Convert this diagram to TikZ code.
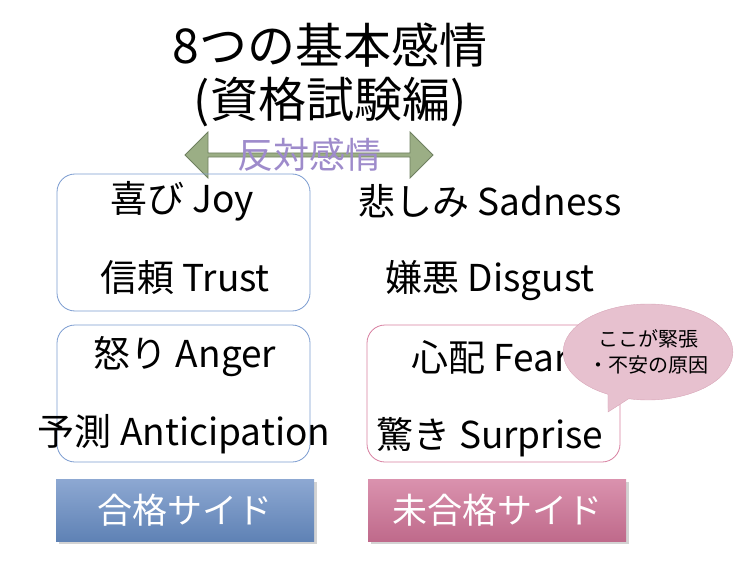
\documentclass[tikz,border=0pt]{standalone}
\usepackage{fontspec}
\setmainfont{Noto Sans CJK JP}
\usetikzlibrary{shapes.geometric,shapes.arrows,shapes.callouts,shadows}
\definecolor{bluebd}{HTML}{7A9BD0}
\definecolor{pinkbd}{HTML}{D77FA0}
\definecolor{arrowf}{HTML}{9BAE85}
\definecolor{arrowd}{HTML}{6F8060}
\definecolor{purp}{HTML}{9E8BCB}
\definecolor{bluetop}{HTML}{8DA8D2}
\definecolor{bluebot}{HTML}{5F82B5}
\definecolor{pinktop}{HTML}{DA92AE}
\definecolor{pinkbot}{HTML}{BF6A8B}
\definecolor{bubble}{HTML}{E7C1CF}
\definecolor{bubbled}{HTML}{D8A6B8}
\tikzset{
  grp/.style={draw=#1,rounded corners=18pt,line width=0.8pt,minimum width=253pt,minimum height=137pt},
  emo/.style={font=\fontsize{37}{40}\selectfont,text=black,inner sep=0pt},
  side/.style={minimum width=258pt,minimum height=62pt,text=white,font=\fontsize{35}{38}\selectfont,drop shadow={opacity=0.35,shadow xshift=3pt,shadow yshift=-3pt}},
}
\begin{document}
\begin{tikzpicture}[x=1pt,y=-1pt]
\useasboundingbox (0,0) rectangle (738,569);
\node[font=\fontsize{48}{52}\selectfont] (t1) at (330,45) {8つの基本感情};
\node[font=\fontsize{48}{52}\selectfont] (t2) at (330,102) {(資格試験編)};
\node[double arrow,draw=arrowd,fill=arrowf,minimum width=46pt,double arrow head extend=4pt,minimum height=248pt,inner sep=0pt,line width=0.8pt] (arr) at (309,155) {};
\node[text=purp,font=\fontsize{36}{38}\selectfont] (opp) at (309,155) {反対感情};
\node[grp=bluebd] (b1) at (183.5,242.5) {};
\node[grp=bluebd] (b2) at (183.5,393.5) {};
\node[grp=pinkbd] (b3) at (493.5,393.5) {};
\node[emo] (e1) at (182,201) {喜び Joy};
\node[emo] (e2) at (185,278) {信頼 Trust};
\node[emo] (e3) at (185,357) {怒り Anger};
\node[emo] (e4) at (184,434) {予測 Anticipation};
\node[emo] (e5) at (490,201) {悲しみ Sadness};
\node[emo] (e6) at (490,281) {嫌悪 Disgust};
\node[emo] (e7) at (490,357) {心配 Fear};
\node[emo] (e8) at (490,437) {驚き Surprise};
\node[side,top color=bluetop,bottom color=bluebot] (s1) at (185,510) {合格サイド};
\node[side,top color=pinktop,bottom color=pinkbot] (s2) at (497,510) {未合格サイド};
\node[ellipse callout,fill=bubble,draw=bubbled,minimum width=160pt,minimum height=96pt,callout absolute pointer={(608,412)},align=center,font=\fontsize{20}{26}\selectfont,inner sep=0pt] (bub) at (648,352) {ここが緊張\\・不安の原因};
\end{tikzpicture}
\end{document}
